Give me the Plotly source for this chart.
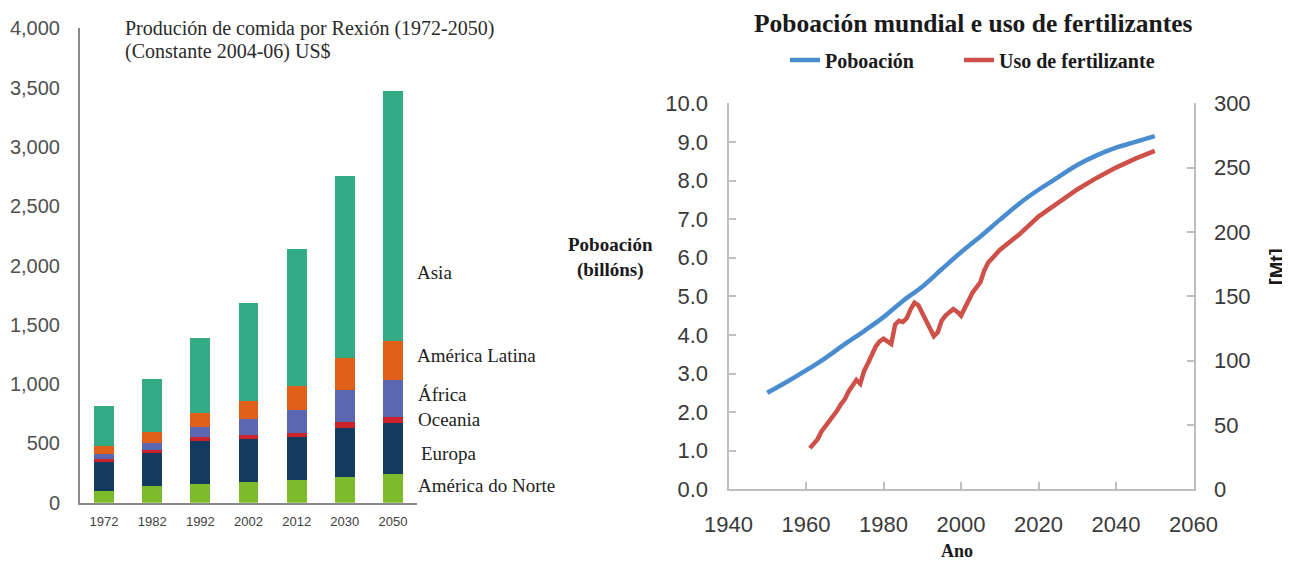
import plotly.graph_objects as go

# Page is drawn with the browser's default 8px body margin, so the figure is
# sized to fill the remaining viewport and all layout positions are offset.
VIEW_W, VIEW_H = 1290, 564
OFF = 8
W, H = VIEW_W - OFF, VIEW_H - OFF

# ---------------- Left chart data ----------------
years_cat = ["1972", "1982", "1992", "2002", "2012", "2030", "2050"]
america_norte = [98, 137, 160, 174, 193, 219, 244]
europa = [244, 281, 364, 364, 359, 412, 429]
oceania = [28, 28, 26, 37, 37, 53, 48]
africa = [42, 56, 92, 129, 193, 267, 316]
america_latina = [70, 92, 112, 151, 205, 266, 323]
asia = [337, 449, 631, 833, 1150, 1534, 2114]

region_names = ["América do Norte", "Europa", "Oceania", "África", "América Latina", "Asia"]
region_colors = ["#7dbb2a", "#133b60", "#cc2229", "#5b67b1", "#e0601a", "#33ab84"]
region_values = [america_norte, europa, oceania, africa, america_latina, asia]
left_yticks = [0, 500, 1000, 1500, 2000, 2500, 3000, 3500, 4000]

# ---------------- Right chart data ----------------
pop_years = [1950, 1955, 1960, 1965, 1970, 1975, 1980, 1985, 1990, 1995, 2000,
             2005, 2010, 2015, 2020, 2025, 2030, 2035, 2040, 2045, 2050]
pop_values = [2.50, 2.78, 3.08, 3.40, 3.76, 4.10, 4.46, 4.88, 5.25, 5.70, 6.14,
              6.55, 6.98, 7.40, 7.76, 8.08, 8.40, 8.65, 8.85, 9.00, 9.15]

fert_years = [1961, 1962, 1963, 1964, 1965, 1966, 1967, 1968, 1969, 1970,
              1971, 1972, 1973, 1974, 1975, 1976, 1977, 1978, 1979, 1980,
              1981, 1982, 1983, 1984, 1985, 1986, 1987, 1988, 1989, 1990,
              1991, 1992, 1993, 1994, 1995, 1996, 1997, 1998, 1999, 2000,
              2001, 2002, 2003, 2004, 2005, 2006, 2007, 2010, 2015, 2020,
              2025, 2030, 2035, 2040, 2045, 2050]
fert_values = [32, 35, 39, 45, 49, 52, 57, 61, 66, 70,
               76, 81, 85, 82, 92, 98, 105, 111, 115, 117,
               115, 113, 128, 131, 130, 133, 140, 145, 143, 137,
               131, 124, 119, 122, 131, 135, 137, 140, 138, 135,
               141, 148, 153, 157, 161, 170, 176, 186, 198, 212,
               223, 233, 242, 250, 257, 263]

pop_ticks = [0, 1, 2, 3, 4, 5, 6, 7, 8, 9, 10]
mt_ticks = [0, 50, 100, 150, 200, 250, 300]
year_ticks = [1940, 1960, 1980, 2000, 2020, 2040, 2060]

SANS = "Liberation Sans, Arial, sans-serif"
SERIF = "Liberation Serif, Times New Roman, serif"


def px_x(x):
    return (x - OFF) / W


def px_y(y):
    return 1 - (y - OFF) / H


fig = go.Figure()

for name, color, vals in zip(region_names, region_colors, region_values):
    fig.add_trace(go.Bar(x=years_cat, y=vals, name=name, marker_color=color,
                         marker_line_width=0, xaxis="x", yaxis="y",
                         showlegend=False))

fig.add_trace(go.Scatter(x=pop_years, y=pop_values, name="<b>Poboación</b>",
                         mode="lines", line=dict(color="#4a8cd0", width=4.5, shape="spline"),
                         xaxis="x2", yaxis="y2", legend="legend"))
fig.add_trace(go.Scatter(x=fert_years, y=fert_values, name="<b>Uso de fertilizante</b>",
                         mode="lines", line=dict(color="#cf4f49", width=4.5),
                         xaxis="x2", yaxis="y3", legend="legend2"))

gray = "#bfbfbf"
legend_common = dict(orientation="h", xanchor="left", yanchor="middle",
                     font=dict(family=SERIF, size=20, color="#1a1a1a"),
                     bgcolor="rgba(0,0,0,0)", itemwidth=30)
fig.update_layout(
    width=W, height=H, autosize=False,
    margin=dict(l=0, r=0, t=0, b=0, pad=0),
    paper_bgcolor="white", plot_bgcolor="white",
    barmode="stack", bargap=0.585,
    xaxis=dict(domain=[px_x(80), px_x(417)], type="category", automargin=False,
               showline=True, linecolor="#8a8a8a", linewidth=2,
               showgrid=False, ticks="", anchor="y",
               tickfont=dict(family=SANS, size=13, color="#404040"),
               ticklabelstandoff=6),
    yaxis=dict(domain=[px_y(502.7), px_y(28.3)], range=[0, 4000], automargin=False,
               tickvals=left_yticks, tickformat=",",
               showline=True, linecolor="#8a8a8a", linewidth=2,
               showgrid=False, zeroline=False, ticks="", anchor="x",
               tickfont=dict(family=SANS, size=20, color="#505050"),
               ticklabelstandoff=14),
    xaxis2=dict(domain=[px_x(728.5), px_x(1193.5)], range=[1940, 2060], automargin=False,
                tickvals=year_ticks, showline=True, linecolor=gray, linewidth=2,
                showgrid=False, zeroline=False, ticks="inside", ticklen=7,
                tickcolor=gray, tickwidth=1.5, anchor="y2",
                tickfont=dict(family=SANS, size=22, color="#3a3a3a"),
                ticklabelstandoff=14),
    yaxis2=dict(domain=[px_y(489.3), px_y(103.3)], range=[0, 10], automargin=False,
                tickvals=pop_ticks, tickformat=".1f",
                showline=True, linecolor=gray, linewidth=2,
                showgrid=False, zeroline=False, ticks="inside", ticklen=7,
                tickcolor=gray, tickwidth=1.5, anchor="x2",
                tickfont=dict(family=SANS, size=22, color="#3a3a3a"),
                ticklabelstandoff=14),
    yaxis3=dict(range=[0, 300], tickvals=mt_ticks, overlaying="y2", side="right",
                anchor="x2", showline=True, linecolor=gray, linewidth=2, automargin=False,
                showgrid=False, zeroline=False, ticks="inside", ticklen=7,
                tickcolor=gray, tickwidth=1.5,
                tickfont=dict(family=SANS, size=22, color="#3a3a3a"),
                ticklabelstandoff=14),
    legend=dict(x=px_x(785), y=px_y(60), **legend_common),
    legend2=dict(x=px_x(959), y=px_y(60), **legend_common),
)

ann = []
# left chart titles
ann.append(dict(text="Produción de comida por Rexión (1972-2050)", x=px_x(123), y=px_y(28),
                xanchor="left", yanchor="middle"))
ann.append(dict(text="(Constante 2004-06) US$", x=px_x(123), y=px_y(52),
                xanchor="left", yanchor="middle"))
for a in ann:
    a.update(xref="paper", yref="paper", showarrow=False,
             font=dict(family=SERIF, size=20, color="#2a2a2a"))

region_label_pos = [("América do Norte", 416, 485), ("Europa", 419, 453),
                    ("Oceania", 416, 419), ("África", 416, 394),
                    ("América Latina", 415, 355), ("Asia", 415, 273)]
for txt, xx, yy in region_label_pos:
    ann.append(dict(text=txt, x=px_x(xx), y=px_y(yy), xref="paper", yref="paper",
                    xanchor="left", yanchor="middle", showarrow=False,
                    font=dict(family=SERIF, size=19, color="#222222")))

# right chart titles
ann.append(dict(text="<b>Poboación mundial e uso de fertilizantes</b>", x=px_x(973), y=px_y(23),
                xref="paper", yref="paper", xanchor="center", yanchor="middle",
                showarrow=False, font=dict(family=SERIF, size=25.5, color="#1a1a1a")))
ann.append(dict(text="<b>Poboación</b><br><b>(billóns)</b>", x=px_x(610), y=px_y(257),
                xref="paper", yref="paper", xanchor="center", yanchor="middle",
                showarrow=False, font=dict(family=SERIF, size=19, color="#1a1a1a")))
ann.append(dict(text="<b>Ano</b>", x=px_x(957), y=px_y(551),
                xref="paper", yref="paper", xanchor="center", yanchor="middle",
                showarrow=False, font=dict(family=SERIF, size=18, color="#1a1a1a")))
ann.append(dict(text="<b>[Mt]</b>", x=px_x(1277), y=px_y(267), textangle=-90,
                xref="paper", yref="paper", xanchor="center", yanchor="middle",
                showarrow=False, font=dict(family=SANS, size=20, color="#1a1a1a")))

fig.update_layout(annotations=ann)

fig.write_html("out.html")
